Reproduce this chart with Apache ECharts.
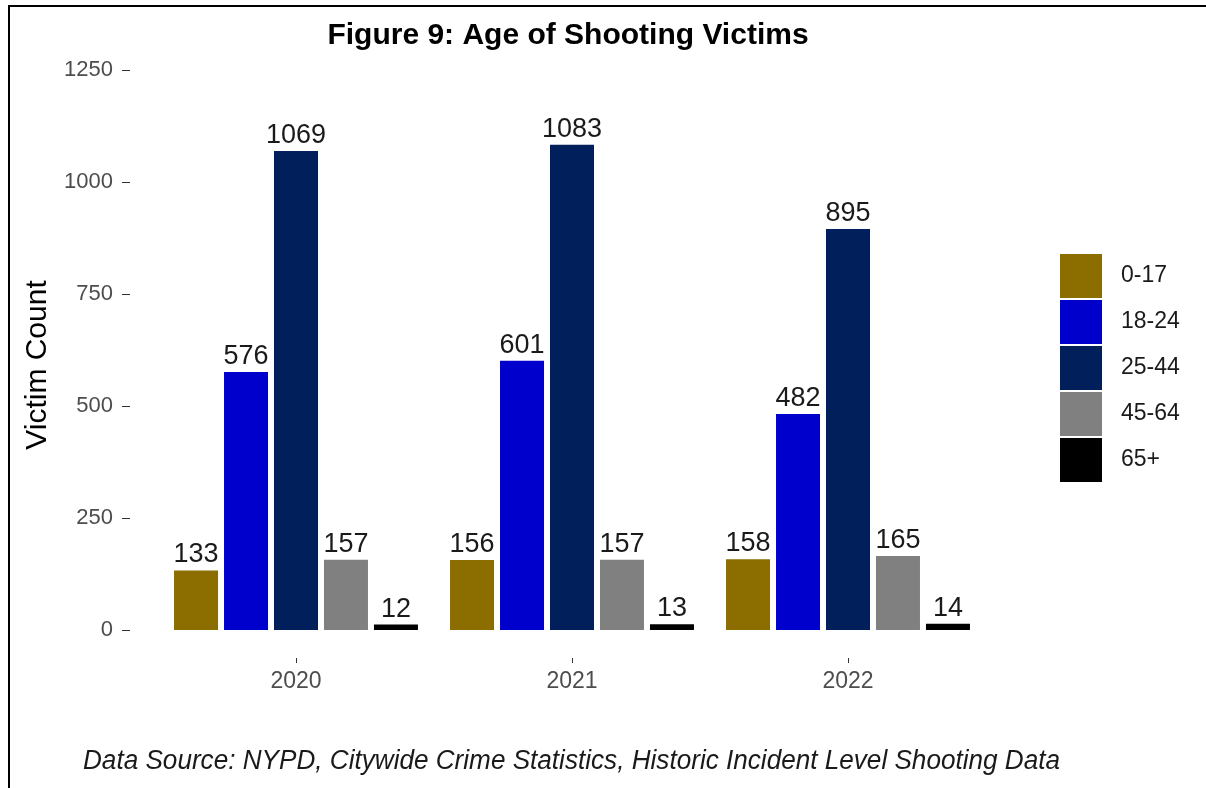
<!DOCTYPE html>
<html>
<head>
<meta charset="utf-8">
<script src="https://cdn.jsdelivr.net/npm/echarts@6/dist/echarts.min.js"></script>
<style>
html, body { margin: 0; padding: 0; background: #fff; }
#panel { width: 1206px; height: 788px; }
</style>
</head>
<body>
<div id="panel"></div>
<script>
var years = ['2020', '2021', '2022'];
var ageGroups = ['0-17', '18-24', '25-44', '45-64', '65+'];
var groupColors = ['#8c6d00', '#0000cd', '#001f5b', '#808080', '#000000'];
var age0to17 = [133, 156, 158];
var age18to24 = [576, 601, 482];
var age25to44 = [1069, 1083, 895];
var age45to64 = [157, 157, 165];
var age65plus = [12, 13, 14];
var yTicks = [0, 250, 500, 750, 1000, 1250];

var seriesValues = [age0to17, age18to24, age25to44, age45to64, age65plus];
var captionText = 'Data Source: NYPD, Citywide Crime Statistics, Historic Incident Level Shooting Data';
var myChart;

// squeeze the caption to the width it has in the original
function captionScale(font, width)
{
    var ctx = document.createElement('canvas').getContext('2d');
    ctx.font = font;
    return width / ctx.measureText(captionText).width;
}

function makeSeries()
{
    return ageGroups.map(function(name, i)
    {
        return {
            name: name,
            type: 'bar',
            data: seriesValues[i],
            barWidth: 44,
            barGap: '13.6%',
            itemStyle: { color: groupColors[i] },
            label: {
                show: true,
                position: 'top',
                distance: 2,
                color: '#1a1a1a',
                fontSize: 27,
                fontFamily: 'Liberation Sans'
            }
        };
    });
}

myChart = echarts.init(document.getElementById('panel'));
myChart.setOption(
{
    backgroundColor: '#fff',
    animation: false,
    title: {
        text: 'Figure 9: Age of Shooting Victims',
        left: 563,
        top: 16,
        textAlign: 'center',
        textStyle: {
            fontFamily: 'Liberation Sans',
            fontWeight: 'bold',
            fontSize: 30,
            color: '#000'
        }
    },
    // panel padded below zero like ggplot does
    grid: { left: 158, right: 220, top: 42, bottom: 130 },
    legend: {
        orient: 'vertical',
        left: 1060,
        top: 254,
        padding: 0,
        icon: 'rect',
        itemWidth: 42,
        itemHeight: 44,
        itemGap: 2,
        data: ageGroups,
        textStyle: { fontFamily: 'Liberation Sans', fontSize: 23, color: '#1a1a1a', padding: [0, 0, 0, 14] }
    },
    xAxis: {
        type: 'category',
        data: years,
        axisLine: { show: false, onZero: false },
        axisTick: { show: true, alignWithLabel: true, length: 5, lineStyle: { color: '#333' } },
        axisLabel: { margin: 12, fontSize: 23, color: '#4d4d4d', fontFamily: 'Liberation Sans' }
    },
    yAxis: {
        type: 'value',
        min: -62.5,
        max: 1312.5,
        offset: 28,
        splitLine: { show: false },
        axisLine: { show: false },
        axisTick: { show: true, length: 8, customValues: yTicks, lineStyle: { color: '#333' } },
        axisLabel: {
            customValues: yTicks,
            margin: 17,
            fontSize: 22,
            color: '#4d4d4d',
            fontFamily: 'Liberation Sans',
            formatter: function(v) { return String(v); }
        }
    },
    graphic: [
        {
            type: 'text',
            x: 38,
            y: 365,
            rotation: Math.PI / 2,
            style: {
                text: 'Victim Count',
                fontFamily: 'Liberation Sans',
                fontSize: 30,
                fill: '#000',
                align: 'center',
                verticalAlign: 'middle'
            }
        },
        {
            type: 'text',
            x: 83,
            y: 761,
            scaleX: captionScale('italic 27px "Liberation Sans"', 977),
            style: {
                text: captionText,
                fontFamily: 'Liberation Sans',
                fontStyle: 'italic',
                fontSize: 27,
                fill: '#1a1a1a',
                verticalAlign: 'middle'
            }
        },
        {
            type: 'polyline',
            shape: { points: [[9, 788], [9, 6], [1206, 6]] },
            style: { stroke: '#000', lineWidth: 2, fill: null }
        }
    ],
    series: makeSeries()
});
</script>
</body>
</html>
